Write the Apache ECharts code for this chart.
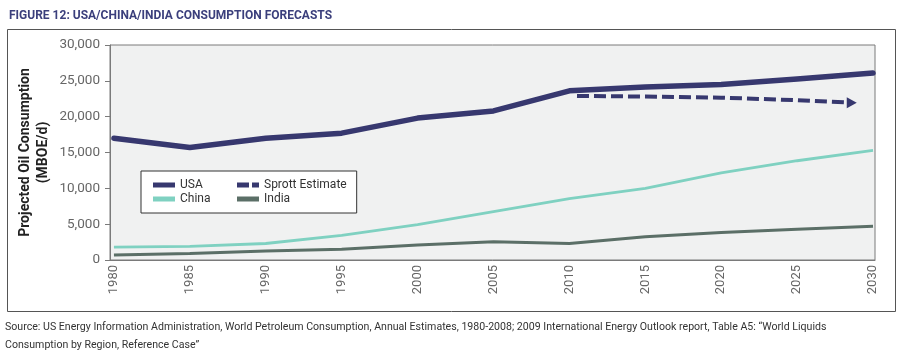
<!DOCTYPE html>
<html><head><meta charset="utf-8">
<script src="https://cdn.jsdelivr.net/npm/echarts@6/dist/echarts.min.js"></script>
<style>html,body{margin:0;padding:0;background:#fff}#c{width:899px;height:357px}</style>
</head><body><div id="c"></div>
<script>
const years = [1980, 1985, 1990, 1995, 2000, 2005, 2010, 2015, 2020, 2025, 2030];
const usa   = [17000, 15700, 17000, 17700, 19800, 20800, 23600, 24150, 24500, 25250, 26100];
const china = [1800, 1900, 2300, 3450, 4950, 6750, 8550, 10000, 12150, 13850, 15300];
const india = [700, 900, 1250, 1500, 2100, 2550, 2300, 3250, 3850, 4300, 4700];
const sprottYears = [2010.5, 2015, 2020, 2025, 2028.6];
const sprott = [22900, 22800, 22650, 22300, 21950];
const FONT = 'Roboto, "Liberation Sans", sans-serif';
const NAVY = '#37386f', TEAL = '#7fd1c1', GREY = '#5b6f67';

const pair = (xs, ys) => xs.map((x, i) => [x, ys[i]]);
const sprottData = pair(sprottYears, sprott).map((p, i, a) =>
  i === a.length - 1 ? {value: p, symbol: 'triangle', symbolSize: [11, 10], symbolRotate: -90} : {value: p});

const legendItem = (name, icon, color, w) => ({
  name, icon,
  itemStyle: {color, borderWidth: 0, borderColor: 'rgba(0,0,0,0)'},
  lineStyle: {width: 0, color: 'rgba(0,0,0,0)', type: 'solid'},
  textStyle: w ? {width: w} : {}
});

const chart = echarts.init(document.getElementById('c'), null, {renderer: 'canvas'});
chart.setOption({
  animation: false,
  backgroundColor: '#fff',
  title: {
    text: 'FIGURE 12: USA/CHINA/INDIA CONSUMPTION FORECASTS',
    left: 4, top: 5,
    textStyle: {fontFamily: FONT, fontWeight: 'bold', fontSize: 12, color: '#3b3f7c'}
  },
  graphic: [
    {type: 'rect', left: 5, top: 27, shape: {width: 888, height: 282}, style: {fill: 'none', stroke: '#555', lineWidth: 1}, silent: true},
    {type: 'text', left: 5, top: 318, style: {
      text: 'Source: US Energy Information Administration, World Petroleum Consumption, Annual Estimates, 1980-2008; 2009 International Energy Outlook report, Table A5: \u201cWorld Liquids\nConsumption by Region, Reference Case\u201d',
      fontFamily: FONT, fontSize: 10.6, lineHeight: 18, fill: '#333'}}
  ],
  legend: {
    left: 141, top: 171, width: 215,
    padding: [7, 10, 7, 12],
    backgroundColor: '#fff', borderColor: '#333', borderWidth: 1,
    itemWidth: 22, itemHeight: 5, itemGap: 0,
    itemStyle: {borderWidth: 0, borderColor: 'rgba(0,0,0,0)'},
    lineStyle: {width: 0, color: 'rgba(0,0,0,0)'},
    textStyle: {fontFamily: FONT, fontSize: 12, color: '#333', lineHeight: 14},
    data: [
      legendItem('USA', 'rect', NAVY, 57),
      legendItem('Sprott Estimate', 'path://M0,0H12V5H0Z M15,0H22V5H15Z', NAVY),
      legendItem('China', 'rect', TEAL, 57),
      legendItem('India', 'rect', GREY)
    ]
  },
  grid: {left: 110, right: 24, top: 45, bottom: 97, show: true, backgroundColor: '#f0f1f1', borderColor: '#7a7a7a', borderWidth: 1},
  xAxis: {
    type: 'value', min: 1979.74, max: 2030.13,
    axisLine: {show: true, lineStyle: {color: '#7a7a7a'}},
    axisTick: {show: false},
    splitLine: {show: false},
    axisLabel: {customValues: years, rotate: 90, margin: 5, fontFamily: FONT, fontSize: 13, color: '#666', formatter: v => String(v)}
  },
  yAxis: {
    type: 'value', min: 0, max: 30000, interval: 5000,
    name: 'Projected Oil Consumption\n(MBOE/d)', nameLocation: 'middle', nameRotate: 90, nameGap: 58,
    nameMoveOverlap: false,
    nameTextStyle: {fontFamily: FONT, fontWeight: 'bold', fontSize: 14, color: '#222', lineHeight: 18},
    axisLine: {show: true, lineStyle: {color: '#7a7a7a'}},
    axisTick: {show: true, length: 5, lineStyle: {color: '#7a7a7a'}},
    splitLine: {show: false},
    axisLabel: {margin: 10, fontFamily: FONT, fontSize: 13.5, color: '#666', formatter: v => v.toLocaleString('en-US')}
  },
  series: [
    {name: 'USA', type: 'line', data: pair(years, usa), symbol: 'none', z: 5,
     lineStyle: {color: NAVY, width: 5.5, cap: 'round', join: 'round'}, itemStyle: {color: NAVY}},
    {name: 'Sprott Estimate', type: 'line', data: sprottData, symbol: 'none', z: 4,
     lineStyle: {color: NAVY, width: 4, type: [12, 5]}, itemStyle: {color: NAVY}},
    {name: 'China', type: 'line', data: pair(years, china), symbol: 'none', z: 3,
     lineStyle: {color: TEAL, width: 2.8}, itemStyle: {color: TEAL}},
    {name: 'India', type: 'line', data: pair(years, india), symbol: 'none', z: 3,
     lineStyle: {color: GREY, width: 3}, itemStyle: {color: GREY}}
  ]
});
</script></body></html>
